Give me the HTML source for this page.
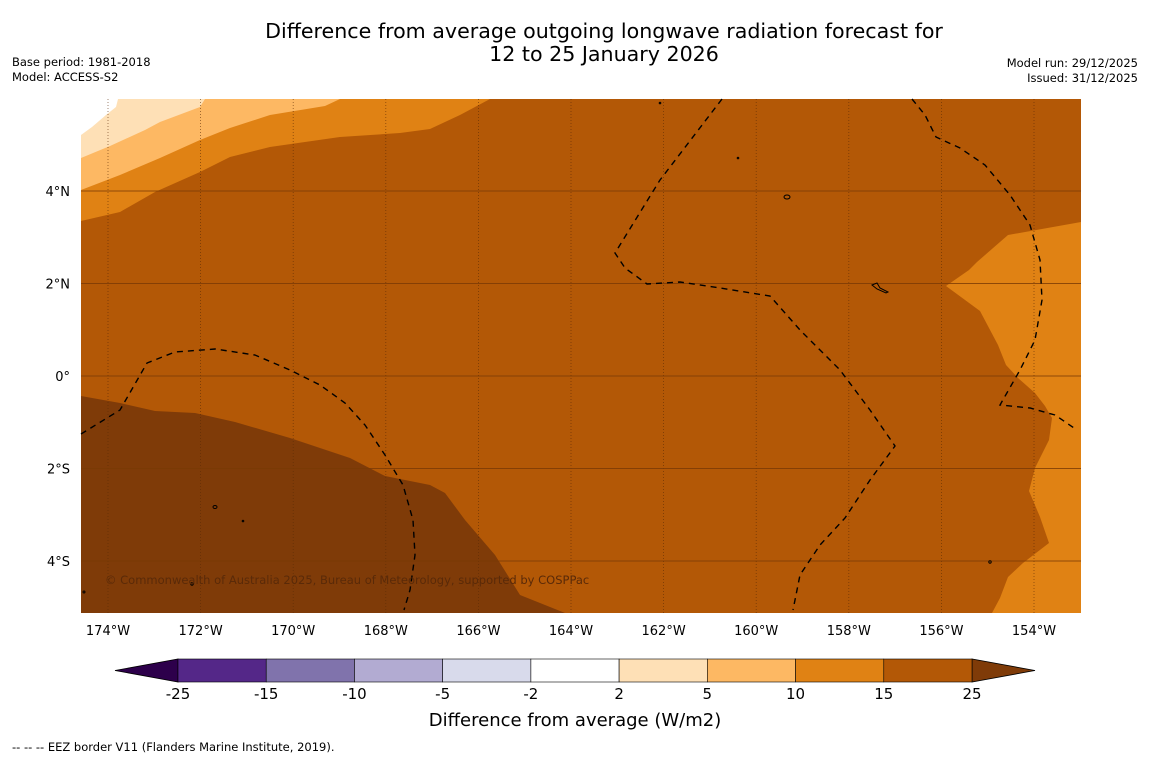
<!DOCTYPE html>
<html><head><meta charset="utf-8"><style>
body{margin:0;background:#fff;width:1150px;height:758px;overflow:hidden;font-family:"DejaVu Sans",sans-serif}
svg{position:absolute;left:0;top:0}
</style></head><body>
<svg width="1150" height="758" font-family="DejaVu Sans, sans-serif">
<text x="604" y="38" text-anchor="middle" font-size="20.6">Difference from average outgoing longwave radiation forecast for</text>
<text x="604" y="61" text-anchor="middle" font-size="20.6">12 to 25 January 2026</text>
<text x="12" y="66" font-size="11.5">Base period: 1981-2018</text>
<text x="12" y="81" font-size="11.5">Model: ACCESS-S2</text>
<text x="1138" y="67" font-size="11.5" text-anchor="end">Model run: 29/12/2025</text>
<text x="1138" y="82" font-size="11.5" text-anchor="end">Issued: 31/12/2025</text>
<g>
<rect x="81" y="99" width="1000" height="514" fill="#b35806"/>
<polygon fill="#7f3b08" points="81,396 120,403 155,411 195,413 235,422 290,438 350,458 385,476 430,485 445,493 465,520 495,555 520,595 565,613 81,613"/>
<polygon fill="#e08214" points="81,221 120,212 155,192 200,172 230,157 270,147 340,137 400,133 430,129 460,115 490,99 81,99"/>
<polygon fill="#fdb863" points="81,190 120,175 160,158 200,140 230,128 270,115 325,106 340,99 81,99"/>
<polygon fill="#fee0b6" points="81,158 110,146 145,130 160,122 200,107 205,99 81,99"/>
<polygon fill="#ffffff" points="81,135 92,127 106,115 116,107 118,99 81,99"/>
<polygon fill="#e08214" points="1081,222 1008,235 977,262 969,270 946,286 980,311 998,345 1006,365 1018,378 1035,393 1045,406 1052,418 1049,440 1035,468 1029,491 1040,517 1049,543 1023,563 1008,577 1000,598 992,613 1081,613"/>
<g id="grid"></g>
<g fill="none" stroke="#000" stroke-width="1.4" stroke-dasharray="6,5">
<polyline points="81,434 120,410 147,363 175,352 215,349 255,355 290,370 320,385 345,403 365,425 385,455 403,485 413,520 415,555 410,590 404,610"/>
<polyline points="722,99 660,180 615,253 625,268 647,284 680,282 720,288 770,296 800,330 840,370 870,410 895,446 870,480 845,518 820,545 800,575 793,610"/>
<polyline points="912,99 925,115 936,137 960,148 985,165 1010,195 1030,225 1040,260 1042,300 1035,340 1020,370 1000,405 1030,408 1055,415 1077,430"/>
</g>
<g fill="none" stroke="#000" stroke-width="1">
<ellipse cx="787" cy="197" rx="3" ry="2"/><path d="M872,285 l5,-2 l3,5 l8,4 l-2,1 l-9,-4z"/>
<ellipse cx="215" cy="507" rx="2" ry="1.5"/><circle cx="243" cy="521" r="0.8"/><circle cx="192" cy="584" r="1.2"/><circle cx="990" cy="562" r="1.2"/><circle cx="738" cy="158" r="0.8"/><circle cx="660" cy="103" r="0.8"/><circle cx="84" cy="592" r="1"/>
</g>
<text x="105" y="584" font-size="11.5" fill="#5a2a08">© Commonwealth of Australia 2025, Bureau of Meteorology, supported by COSPPac</text>
</g>
<g id="axes" font-size="13"></g>
<g id="cbar"></g>
<text x="575" y="726" text-anchor="middle" font-size="18">Difference from average (W/m2)</text>
<text x="12" y="751" font-size="11.5">--  --  -- EEZ border V11 (Flanders Marine Institute, 2019).</text>
</svg>
<script>
const lonTicks=[-174,-172,-170,-168,-166,-164,-162,-160,-158,-156,-154];
const latTicks=[4,2,0,-2,-4];
const cbBounds=[-25,-15,-10,-5,-2,2,5,10,15,25];
const cbColors=["#542788","#8073ac","#b2abd2","#d8daeb","#ffffff","#fee0b6","#fdb863","#e08214","#b35806"];
const NS="http://www.w3.org/2000/svg";
function xLon(l){return 108+(l+174)*46.3;}
function yLat(l){return 376-l*46.25;}
function mk(t,a,p){const e=document.createElementNS(NS,t);for(const k in a)e.setAttribute(k,a[k]);p.appendChild(e);return e;}
const grid=document.getElementById('grid'),axes=document.getElementById('axes'),cb=document.getElementById('cbar');
lonTicks.forEach(l=>{const x=xLon(l);
 const g=mk('line',{x1:x,x2:x,y1:99,y2:613,stroke:'#5a2a05','stroke-width':0.8,'stroke-dasharray':'1,2',opacity:0.7},grid);
 
 
 const t=mk('text',{x:x,y:635,'text-anchor':'middle'},axes);t.textContent=Math.abs(l)+'°W';
 
 });
latTicks.forEach(l=>{const y=yLat(l);
 const g=mk('line',{x1:81,x2:1081,y1:y,y2:y,stroke:'#7a3a05','stroke-width':1,opacity:0.8},grid);
 
 
 const t=mk('text',{x:70,y:y+5,'text-anchor':'end'},axes);t.textContent=l===0?'0°':Math.abs(l)+'°'+(l>0?'N':'S');
 
 });
const cx0=178,cx1=972,cy=659,ch=23,n=cbColors.length,w=(cx1-cx0)/n;
function cbX(i){return cx0+i*w;}
const lt=mk('polygon',{points:`115,${cy+ch/2} ${cx0},${cy} ${cx0},${cy+ch}`,fill:'#2d004b',stroke:'#000','stroke-width':0.8},cb);


const rt=mk('polygon',{points:`1035,${cy+ch/2} ${cx1},${cy} ${cx1},${cy+ch}`,fill:'#7f3b08',stroke:'#000','stroke-width':0.8},cb);


cbColors.forEach((c,i)=>{const r=mk('rect',{x:cbX(i),y:cy,width:w,height:ch,fill:c,stroke:'#000','stroke-width':0.6},cb);
 
 });
cbBounds.forEach((b,i)=>{const t=mk('text',{x:cbX(i),y:699,'text-anchor':'middle','font-size':15},cb);t.textContent=b;
 
 });
</script>
</body></html>
